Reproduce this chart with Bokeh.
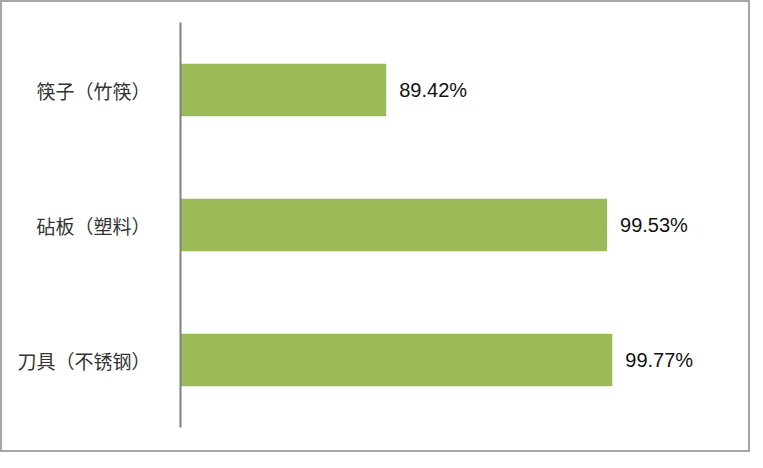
from bokeh.plotting import figure
from bokeh.models import ColumnDataSource, Range1d, LabelSet
from bokeh.embed import file_html
from bokeh.resources import INLINE
from bokeh.core.properties import value

categories = ["筷子（竹筷）", "砧板（塑料）", "刀具（不锈钢）"]
values = [89.42, 99.53, 99.77]
labels = [f"{v:.2f}%" for v in values]

src = ColumnDataSource(dict(cat=categories, val=values, lab=labels))

p = figure(y_range=list(reversed(categories)), x_range=Range1d(80, 105),
           width=750, height=452, output_backend="svg", toolbar_location=None,
           min_border_left=178, min_border_right=26, min_border_top=20, min_border_bottom=27)
p.hbar(y="cat", left=80, right="val", height=0.39, source=src,
       fill_color="#9bbb59", line_color=None)
p.add_layout(LabelSet(x="val", y="cat", text="lab", source=src, x_offset=13,
                      text_baseline="middle", text_font=value("Liberation Sans"),
                      text_font_size="20px", text_color="#111111"))

p.xaxis.visible = False
p.xgrid.visible = False
p.ygrid.visible = False
p.outline_line_color = None
ax = p.yaxis[0]
ax.axis_line_color = "#808080"
ax.axis_line_width = 2
ax.major_tick_line_color = None
ax.minor_tick_line_color = None
ax.major_label_standoff = 24
ax.major_label_text_font = "Noto Sans CJK SC"
ax.major_label_text_font_size = "19px"
ax.major_label_text_color = "#333333"
p.styles = {"border": "2px solid #a6a6a6", "box-sizing": "border-box"}

open("out.html", "w").write(file_html(p, INLINE))
